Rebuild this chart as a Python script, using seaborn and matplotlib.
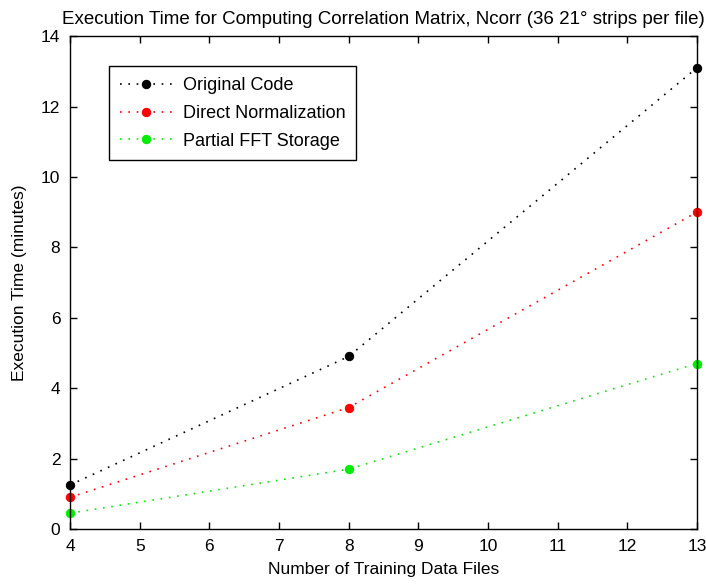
import pandas as pd
import matplotlib.pyplot as plt
import seaborn as sns

# Execution times (minutes)
files = [4, 8, 13]
original_code = [1.25, 4.9, 13.1]
direct_norm = [0.9, 3.45, 9.0]
partial_fft = [0.45, 1.7, 4.7]
methods = ['Original Code', 'Direct Normalization', 'Partial FFT Storage']

df = pd.DataFrame({
    'files': files * 3,
    'time': original_code + direct_norm + partial_fft,
    'method': [m for m in methods for _ in files],
})

sns.set_style('ticks')
plt.rcParams['font.family'] = ['Liberation Sans', 'DejaVu Sans']
plt.rcParams['text.color'] = 'black'
plt.rcParams['axes.labelcolor'] = 'black'
plt.rcParams['xtick.color'] = 'black'
plt.rcParams['ytick.color'] = 'black'
plt.rcParams['axes.edgecolor'] = 'black'

fig = plt.figure(figsize=(7.06, 5.84), dpi=100)
ax = fig.add_axes([0.0992, 0.0942, 0.888, 0.844])

palette = {'Original Code': 'black', 'Direct Normalization': '#ff0000', 'Partial FFT Storage': '#00ee00'}
sns.lineplot(data=df, x='files', y='time', hue='method', palette=palette,
             marker='o', ax=ax)

dots = (0, (1, 4))
for line in ax.get_lines():
    c = line.get_color()
    line.set_linestyle(dots)
    line.set_linewidth(1.2)
    line.set_marker('o')
    line.set_markersize(6)
    line.set_markerfacecolor(c)
    line.set_markeredgecolor(c)
    line.set_clip_on(False)

ax.set_xlim(4, 13)
ax.set_ylim(0, 14)
ax.set_xticks(range(4, 14))
ax.set_yticks(range(0, 15, 2))
ax.tick_params(direction='in', top=True, right=True, labelsize=12.5, length=5, width=1, pad=7)
for s in ax.spines.values():
    s.set_linewidth(1)
    s.set_visible(True)

ax.set_title('Execution Time for Computing Correlation Matrix, Ncorr (36 21\u00b0 strips per file)',
             fontsize=13.5, pad=9)
ax.set_xlabel('Number of Training Data Files', fontsize=12.5, labelpad=6)
ax.set_ylabel('Execution Time (minutes)', fontsize=12.5, labelpad=10)

leg = ax.legend(loc='upper left', bbox_to_anchor=(0.062, 0.939), borderaxespad=0,
                fontsize=13, frameon=True, fancybox=False, edgecolor='black', framealpha=1,
                handlelength=2.9, handletextpad=0.6, labelspacing=0.6, borderpad=0.6)
leg.get_frame().set_linewidth(1)
for h in leg.get_lines():
    c = h.get_color()
    h.set_linestyle(dots)
    h.set_linewidth(1.2)
    h.set_marker('o')
    h.set_markersize(6)
    h.set_markerfacecolor(c)
    h.set_markeredgecolor(c)

fig.savefig('out.png', dpi=100)
